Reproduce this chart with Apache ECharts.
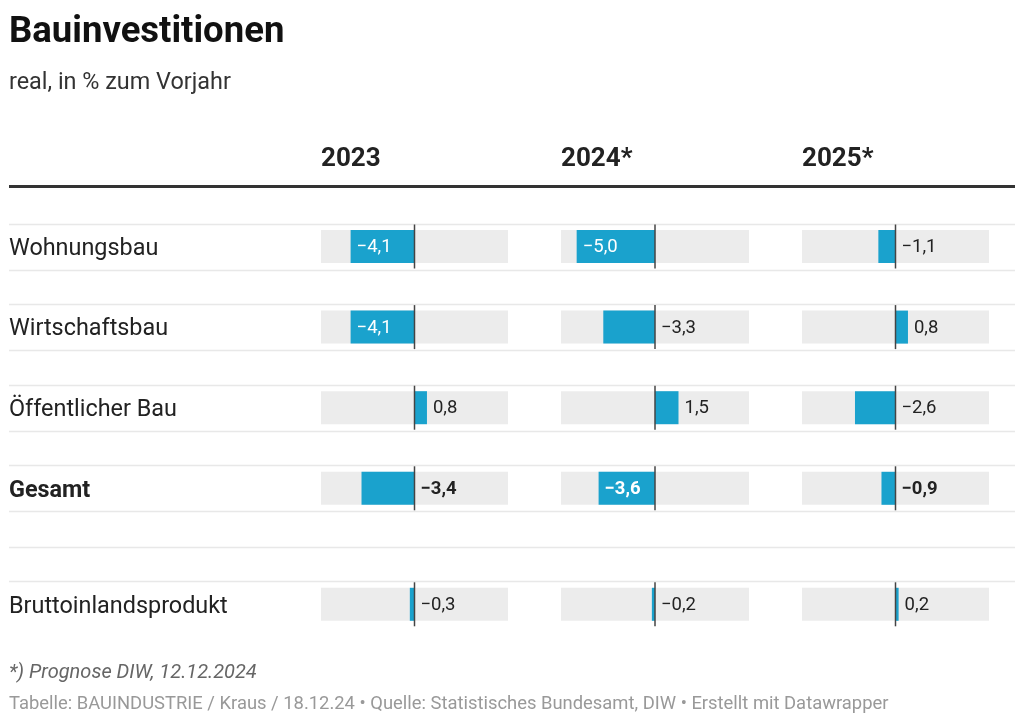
<!DOCTYPE html>
<html>
<head>
<meta charset="utf-8">
<script src="https://cdn.jsdelivr.net/npm/echarts@6/dist/echarts.min.js"></script>
<style>
html,body{margin:0;padding:0;background:#fff;}
#chart{width:1024px;height:722px;}
</style>
</head>
<body>
<div id="chart"></div>
<script>
// ---- data ----
const categories = ['Wohnungsbau', 'Wirtschaftsbau', 'Öffentlicher Bau', 'Gesamt'];
const gdpCategory = ['Bruttoinlandsprodukt'];
const years = ['2023', '2024*', '2025*'];
const values2023 = [-4.1, -4.1, 0.8, -3.4];
const values2024 = [-5.0, -3.3, 1.5, -3.6];
const values2025 = [-1.1, 0.8, -2.6, -0.9];
const gdpValues = [-0.3, -0.2, 0.2];
const footnote = '*) Prognose DIW, 12.12.2024';
const source = 'Tabelle: BAUINDUSTRIE / Kraus / 18.12.24 • Quelle: Statistisches Bundesamt, DIW • Erstellt mit Datawrapper';

// ---- layout ----
const FONT = 'Roboto, "Noto Sans", sans-serif';
const BLUE = '#1aa2cd';
const colLeft = [321, 561, 802];
const colWidth = [187, 188, 187];
const pitch = 80.6;
const groupATop = 206.2;
const groupBTop = 564;
const columnValues = [values2023, values2024, values2025];

function fmt(v) {
  return v.toFixed(1).replace('.', ',').replace('-', '\u2212');
}

function makeRender(boldIdx) {
  return function (params, api) {
    const v = api.value(0);
    const idx = api.value(1);
    const cs = params.coordSys;
    const p0 = api.coord([0, idx]);
    const pv = api.coord([v, idx]);
    const cy = p0[1];
    const h = 33;
    const bold = idx === boldIdx;
    const x1 = Math.min(p0[0], pv[0]);
    const w = Math.abs(pv[0] - p0[0]);
    const inside = v < 0 && Math.abs(v) >= 3.5;
    let lx, fill;
    if (inside) { lx = x1 + 6; fill = '#ffffff'; }
    else { lx = Math.max(p0[0], pv[0]) + 6; fill = '#222222'; }
    return {
      type: 'group',
      children: [
        { type: 'rect', shape: { x: cs.x, y: cy - h / 2, width: cs.width, height: h }, style: { fill: '#ececec' } },
        { type: 'rect', shape: { x: x1, y: cy - h / 2, width: w, height: h }, style: { fill: BLUE } },
        { type: 'line', shape: { x1: p0[0], y1: cy - 22, x2: p0[0], y2: cy + 22 }, style: { stroke: '#444', lineWidth: 1.5 } },
        { type: 'text', style: { text: fmt(v), x: lx, y: cy + 1, fill: fill, fontSize: 18.5, fontWeight: bold ? 'bold' : 'normal', fontFamily: FONT, align: 'left', verticalAlign: 'middle' } }
      ]
    };
  };
}

const grids = [], xAxes = [], yAxes = [], series = [];
for (let g = 0; g < 2; g++) {
  for (let c = 0; c < 3; c++) {
    const i = g * 3 + c;
    const cats = g === 0 ? categories : gdpCategory;
    grids.push({ left: colLeft[c], width: colWidth[c], top: g === 0 ? groupATop : groupBTop, height: pitch * cats.length });
    xAxes.push({ type: 'value', gridIndex: i, min: -6, max: 6, show: false });
    yAxes.push({
      type: 'category', gridIndex: i, data: cats, inverse: true,
      show: c === 0,
      axisLine: { show: false }, axisTick: { show: false }, splitLine: { show: false },
      axisLabel: {
        show: c === 0, align: 'left', margin: colLeft[0] - 9,
        fontSize: 23.4, color: '#222', fontFamily: FONT, padding: [5, 0, 0, 0],
        formatter: function (val) { return val === 'Gesamt' ? '{b|' + val + '}' : val; },
        rich: { b: { fontWeight: 'bold', fontSize: 23.4, color: '#222', fontFamily: FONT } }
      }
    });
    const data = g === 0
      ? columnValues[c].map((v, k) => [v, k])
      : [[gdpValues[c], 0]];
    series.push({
      type: 'custom', xAxisIndex: i, yAxisIndex: i,
      encode: { x: 0, y: 1 },
      renderItem: makeRender(g === 0 ? categories.indexOf('Gesamt') : -1),
      data: data, silent: true, animation: false
    });
  }
}

// separators
const lineYs = [];
for (let k = 0; k < categories.length; k++) {
  const cy = groupATop + pitch * (k + 0.5);
  lineYs.push(cy - 23, cy + 23);
}
lineYs.push(547);
lineYs.push(groupBTop + pitch * 0.5 - 23);
const graphics = lineYs.map(y => ({
  type: 'line', z: -1, shape: { x1: 9, y1: Math.round(y) + 0.5, x2: 1015, y2: Math.round(y) + 0.5 },
  style: { stroke: '#e8e8e8', lineWidth: 1.5 }
}));
graphics.push({ type: 'rect', shape: { x: 9, y: 185, width: 1006, height: 3 }, style: { fill: '#333' } });

const titles = [
  { text: 'Bauinvestitionen', left: 9, top: 14, padding: 0, textStyle: { fontSize: 36.5, fontWeight: 'bold', color: '#111', fontFamily: FONT } },
  { text: 'real, in % zum Vorjahr', left: 9, top: 72, padding: 0, textStyle: { fontSize: 23.4, fontWeight: 'normal', color: '#333', fontFamily: FONT } },
  { text: footnote, left: 9, top: 663, padding: 0, textStyle: { fontSize: 20, fontStyle: 'italic', fontWeight: 'normal', color: '#666', fontFamily: FONT } },
  { text: source, left: 9, top: 695, padding: 0, textStyle: { fontSize: 18.4, fontWeight: 'normal', color: '#999', fontFamily: FONT } }
];
years.forEach((y, c) => {
  titles.push({ text: y, left: colLeft[c], top: 146, padding: 0, textStyle: { fontSize: 26, fontWeight: 'bold', color: '#222', fontFamily: FONT } });
});

const chart = echarts.init(document.getElementById('chart'), null, { renderer: 'canvas' });
chart.setOption({
  backgroundColor: '#fff',
  animation: false,
  title: titles,
  grid: grids,
  xAxis: xAxes,
  yAxis: yAxes,
  series: series,
  graphic: graphics
});
</script>
</body>
</html>
